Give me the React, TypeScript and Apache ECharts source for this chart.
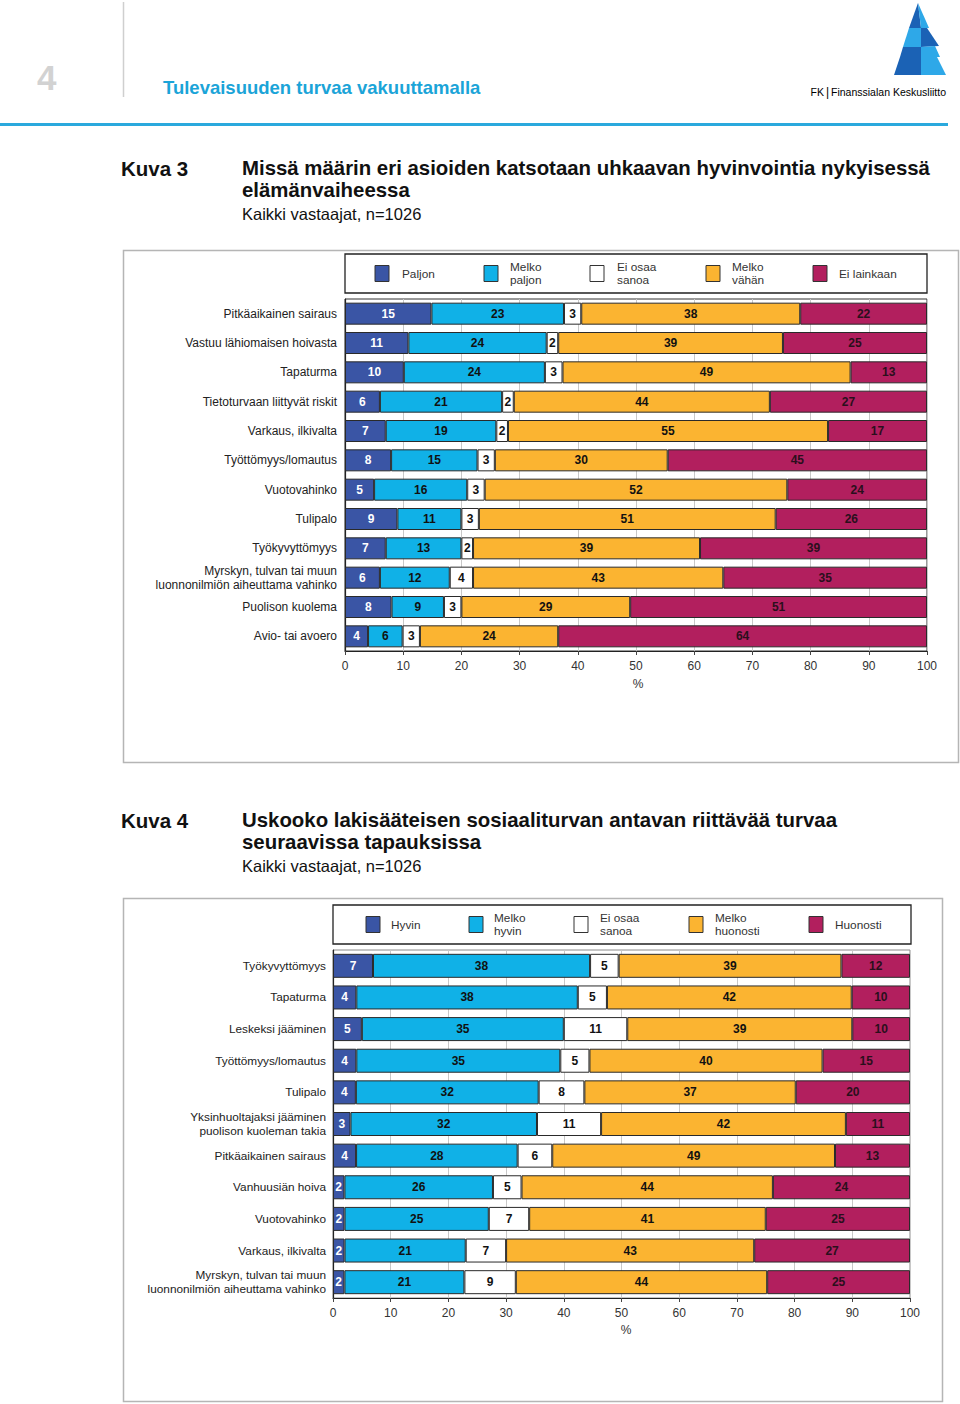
import React, { useEffect, useRef } from "react";
import * as echarts from "echarts";

// ---------- Chart 1 (Kuva 3) ----------
const c1Categories = [
  "Pitkäaikainen sairaus",
  "Vastuu lähiomaisen hoivasta",
  "Tapaturma",
  "Tietoturvaan liittyvät riskit",
  "Varkaus, ilkivalta",
  "Työttömyys/lomautus",
  "Vuotovahinko",
  "Tulipalo",
  "Työkyvyttömyys",
  "Myrskyn, tulvan tai muun\nluonnonilmiön aiheuttama vahinko",
  "Puolison kuolema",
  "Avio- tai avoero",
];
const c1SeriesNames = ["Paljon", "Melko\npaljon", "Ei osaa\nsanoa", "Melko\nvähän", "Ei lainkaan"];
const c1Paljon = [15, 11, 10, 6, 7, 8, 5, 9, 7, 6, 8, 4];
const c1MelkoPaljon = [23, 24, 24, 21, 19, 15, 16, 11, 13, 12, 9, 6];
const c1EiOsaa = [3, 2, 3, 2, 2, 3, 3, 3, 2, 4, 3, 3];
const c1MelkoVahan = [38, 39, 49, 44, 55, 30, 52, 51, 39, 43, 29, 24];
const c1EiLainkaan = [22, 25, 13, 27, 17, 45, 24, 26, 39, 35, 51, 64];

// ---------- Chart 2 (Kuva 4) ----------
const c2Categories = [
  "Työkyvyttömyys",
  "Tapaturma",
  "Leskeksi jääminen",
  "Työttömyys/lomautus",
  "Tulipalo",
  "Yksinhuoltajaksi jääminen\npuolison kuoleman takia",
  "Pitkäaikainen sairaus",
  "Vanhuusiän hoiva",
  "Vuotovahinko",
  "Varkaus, ilkivalta",
  "Myrskyn, tulvan tai muun\nluonnonilmiön aiheuttama vahinko",
];
const c2SeriesNames = ["Hyvin", "Melko\nhyvin", "Ei osaa\nsanoa", "Melko\nhuonosti", "Huonosti"];
const c2Hyvin = [7, 4, 5, 4, 4, 3, 4, 2, 2, 2, 2];
const c2MelkoHyvin = [38, 38, 35, 35, 32, 32, 28, 26, 25, 21, 21];
const c2EiOsaa = [5, 5, 11, 5, 8, 11, 6, 5, 7, 7, 9];
const c2MelkoHuonosti = [39, 42, 39, 40, 37, 42, 49, 44, 41, 43, 44];
const c2Huonosti = [12, 10, 10, 15, 20, 11, 13, 24, 25, 27, 25];

const xTicks = [0, 10, 20, 30, 40, 50, 60, 70, 80, 90, 100];

const COLORS = ["#3a55a5", "#10b1e7", "#ffffff", "#fbb431", "#b21f5e"];
const LABEL_COLORS = ["#ffffff", "#111111", "#111111", "#111111", "#2a0f1c"];

const FONT = "'Liberation Sans', Arial, Helvetica, sans-serif";

function buildSeries(
  groups: number[][],
  names: string[],
  stack: string,
  axisIndex: number,
  barWidth: number
) {
  const n = groups[0].length;
  const sums = Array.from({ length: n }, (_, i) => groups.reduce((s, g) => s + g[i], 0));
  return groups.map((g, k) => ({
    type: "bar",
    name: names[k],
    stack,
    xAxisIndex: axisIndex,
    yAxisIndex: axisIndex,
    barWidth,
    data: g.map((v, i) => (v / sums[i]) * 100),
    itemStyle: { color: COLORS[k], borderColor: "#2a2a2a", borderWidth: 1 },
    label: {
      show: true,
      position: "inside",
      formatter: (p: any) => String(g[p.dataIndex]),
      fontSize: 12,
      fontWeight: "bold",
      fontFamily: FONT,
      color: LABEL_COLORS[k],
    },
    emphasis: { disabled: true },
  }));
}

function legendGraphics(
  names: string[],
  box: { x: number; y: number; w: number; h: number },
  squareX: number[],
  textX: number[]
) {
  const cy = box.y + box.h / 2;
  const els: any[] = [
    {
      type: "rect",
      shape: { x: box.x, y: box.y, width: box.w, height: box.h },
      style: { fill: "#fff", stroke: "#222", lineWidth: 1.3 },
    },
  ];
  names.forEach((nm, i) => {
    els.push({
      type: "rect",
      shape: { x: squareX[i], y: cy - 8, width: 14, height: 16 },
      style: { fill: COLORS[i], stroke: "#333", lineWidth: 1 },
    });
    els.push({
      type: "text",
      x: textX[i],
      y: cy,
      style: {
        text: nm,
        fontSize: 11.8,
        fontFamily: FONT,
        fill: "#333",
        textAlign: "left",
        textVerticalAlign: "middle",
        lineHeight: 13,
      },
    });
  });
  return els;
}

function txt(x: number, y: number, text: string, size: number, weight: string, fill: string, family = FONT, align = "left") {
  return {
    type: "text",
    x,
    y,
    style: { text, fontSize: size, fontWeight: weight, fill, fontFamily: family, textAlign: align, textVerticalAlign: "middle" },
  };
}

function axisPair(idx: number, categories: string[], labelMargin: number, labelSize: number) {
  return {
    x: {
      type: "value",
      gridIndex: idx,
      min: 0,
      max: 100,
      interval: 10,
      axisLine: { show: true, lineStyle: { color: "#222", width: 1.2 } },
      axisTick: { show: true, length: 4, lineStyle: { color: "#444" } },
      axisLabel: {
        fontSize: 12,
        fontFamily: FONT,
        color: "#333",
        margin: 9,
        formatter: (v: number) => (xTicks.includes(v) ? String(v) : ""),
      },
      splitLine: { show: true, lineStyle: { color: "#c8c8c8", width: 1 } },
    },
    y: {
      type: "category",
      gridIndex: idx,
      data: categories,
      inverse: true,
      axisLine: { show: true, lineStyle: { color: "#222", width: 1.2 } },
      axisTick: { show: false },
      axisLabel: {
        fontSize: labelSize,
        fontFamily: FONT,
        color: "#222",
        margin: labelMargin,
        lineHeight: 14,
        align: "right",
      },
    },
  };
}

function logo() {
  const dark = "#1b62b5";
  const light = "#2ea8e8";
  const polys: [number[][], string][] = [
    [[[918, 3], [921, 28], [909, 28]], dark],
    [[[918, 3], [929, 28], [921, 28]], light],
    [[[909, 28], [921, 28], [921, 47], [903, 47]], light],
    [[[921, 28], [927, 28], [939, 46], [921, 47]], dark],
    [[[903, 47], [921, 47], [921, 57], [900, 57]], dark],
    [[[921, 47], [935, 46], [940, 57], [921, 57]], light],
    [[[900, 57], [921, 57], [921, 75], [894, 75]], dark],
    [[[921, 57], [937, 57], [946, 75], [921, 75]], light],
  ];
  return polys.map(([pts, c]) => ({ type: "polygon", shape: { points: pts }, style: { fill: c } }));
}

export default function App() {
  const ref = useRef<HTMLDivElement>(null);
  useEffect(() => {
    if (!ref.current) return;
    const chart = echarts.init(ref.current, undefined, { renderer: "svg" });
    const a1 = axisPair(0, c1Categories, 8, 12);
    const a2 = axisPair(1, c2Categories, 7, 11.8);
    const series = [
      ...buildSeries([c1Paljon, c1MelkoPaljon, c1EiOsaa, c1MelkoVahan, c1EiLainkaan], c1SeriesNames, "c1", 0, 22),
      ...buildSeries([c2Hyvin, c2MelkoHyvin, c2EiOsaa, c2MelkoHuonosti, c2Huonosti], c2SeriesNames, "c2", 1, 24),
    ];
    const graphics: any[] = [
      // header
      txt(37, 77, "4", 35, "bold", "#d2d2d2"),
      { type: "line", shape: { x1: 123.5, y1: 2, x2: 123.5, y2: 97 }, style: { stroke: "#cfcfcf", lineWidth: 1.5 } },
      txt(163, 87, "Tulevaisuuden turvaa vakuuttamalla", 18.5, "bold", "#1ba4d8"),
      ...logo(),
      {
        type: "text",
        x: 946,
        y: 92,
        style: {
          text: "{a|FK}{b||}{c|Finanssialan Keskusliitto}",
          textAlign: "right",
          textVerticalAlign: "middle",
          rich: {
            a: { fontSize: 10.5, fontFamily: FONT, color: "#333" },
            b: { fontSize: 12, fontFamily: FONT, color: "#2aa8dc", padding: [0, 2, 0, 2] },
            c: { fontSize: 10.5, fontFamily: FONT, color: "#444" },
          },
        },
      },
      { type: "line", shape: { x1: 0, y1: 124.5, x2: 948, y2: 124.5 }, style: { stroke: "#2aa9dd", lineWidth: 3 } },
      // Kuva 3 titles
      txt(121, 168, "Kuva 3", 20.5, "bold", "#111"),
      txt(242, 168, "Missä määrin eri asioiden katsotaan uhkaavan hyvinvointia nykyisessä", 20.4, "bold", "#111"),
      txt(242, 190, "elämänvaiheessa", 20.4, "bold", "#111"),
      txt(242, 214, "Kaikki vastaajat, n=1026", 16.5, "normal", "#111"),
      // frame 1
      { type: "rect", shape: { x: 123.5, y: 250.5, width: 835, height: 512 }, style: { fill: "none", stroke: "#b5b5b5", lineWidth: 1.5 } },
      ...legendGraphics(c1SeriesNames, { x: 345, y: 254, w: 582, h: 39 }, [375, 484, 590, 706, 813], [402, 510, 617, 732, 839]),
      txt(638, 684, "%", 12, "normal", "#333", FONT, "center"),
      // Kuva 4 titles
      txt(121, 820, "Kuva 4", 20.5, "bold", "#111"),
      txt(242, 820, "Uskooko lakisääteisen sosiaaliturvan antavan riittävää turvaa", 20.4, "bold", "#111"),
      txt(242, 842, "seuraavissa tapauksissa", 20.4, "bold", "#111"),
      txt(242, 866, "Kaikki vastaajat, n=1026", 16.5, "normal", "#111"),
      // frame 2
      { type: "rect", shape: { x: 123.5, y: 898.5, width: 819, height: 503 }, style: { fill: "none", stroke: "#b5b5b5", lineWidth: 1.5 } },
      ...legendGraphics(c2SeriesNames, { x: 333, y: 905, w: 578, h: 39 }, [366, 469, 574, 689, 809], [391, 494, 600, 715, 835]),
      txt(626, 1330, "%", 12, "normal", "#333", FONT, "center"),
    ];
    chart.setOption({
      animation: false,
      backgroundColor: "#ffffff",
      textStyle: { fontFamily: FONT },
      grid: [
        { left: 345, width: 582, top: 299, height: 352, show: true, borderColor: "#333", borderWidth: 1, backgroundColor: "transparent" },
        { left: 333, width: 577, top: 950, height: 348, show: true, borderColor: "#8a8a8a", borderWidth: 1, backgroundColor: "transparent" },
      ],
      xAxis: [a1.x, a2.x],
      yAxis: [a1.y, a2.y],
      series,
      graphic: { elements: graphics },
    });
    return () => chart.dispose();
  }, []);
  return (
    <div
      ref={ref}
      style={{ position: "absolute", left: 0, top: 0, width: 960, height: 1404, background: "#fff" }}
    />
  );
}
